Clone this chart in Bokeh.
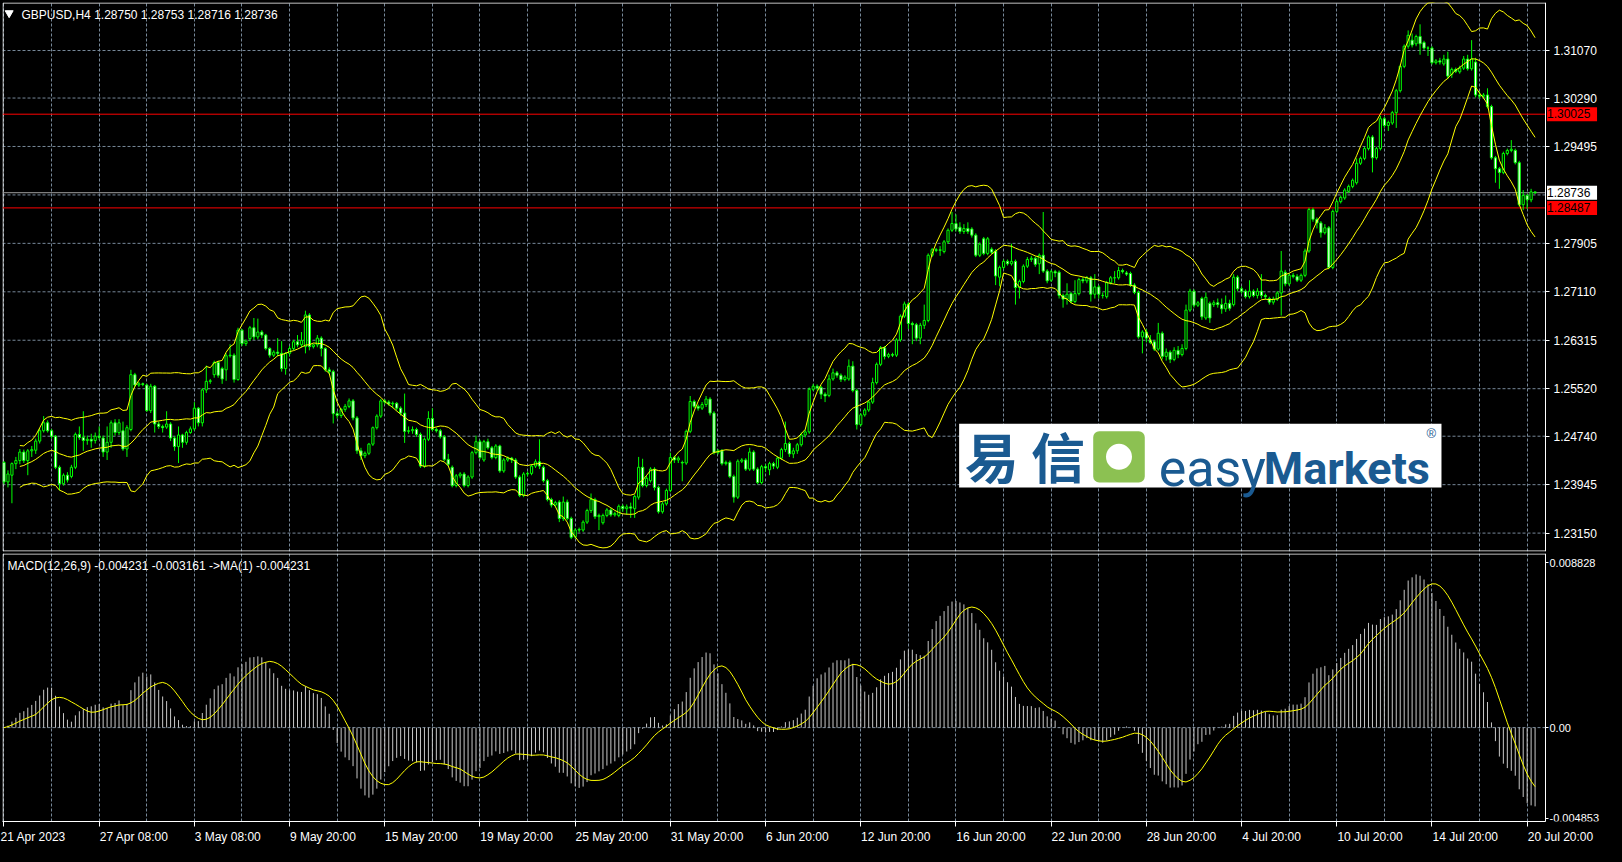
import pandas as pd
from bokeh.plotting import figure
from bokeh.layouts import column
from bokeh.models import (FixedTicker, Grid, Label, Range1d, ColumnDataSource,
                          PrintfTickFormatter, LinearAxis)
from bokeh.embed import file_html
from bokeh.resources import INLINE

# ---------------- data ----------------
symbol = "GBPUSD,H4"
last_ohlc = ["1.28750", "1.28753", "1.28716", "1.28736"]

opens = [
1.2431,1.2399,1.2410,1.2429,1.2434,1.2448,1.2434,1.2450,1.2451,1.2466,
1.2483,1.2496,1.2483,1.2474,1.2423,1.2396,1.2410,1.2408,1.2423,1.2477,
1.2472,1.2467,1.2469,1.2467,1.2474,1.2471,1.2448,1.2464,1.2496,1.2480,
1.2483,1.2453,1.2485,1.2575,1.2558,1.2560,1.2558,1.2516,1.2556,1.2494,
1.2490,1.2489,1.2494,1.2471,1.2457,1.2476,1.2464,1.2480,1.2486,1.2520,
1.2496,1.2550,1.2564,1.2575,1.2595,1.2585,1.2583,1.2606,1.2607,1.2567,
1.2648,1.2626,1.2634,1.2652,1.2637,1.2645,1.2640,1.2618,1.2607,1.2612,
1.2610,1.2585,1.2610,1.2618,1.2629,1.2624,1.2621,1.2673,1.2621,1.2624,
1.2635,1.2618,1.2583,1.2580,1.2511,1.2508,1.2518,1.2523,1.2532,1.2504,
1.2450,1.2442,1.2446,1.2461,1.2488,1.2507,1.2532,1.2530,1.2527,1.2528,
1.2520,1.2512,1.2482,1.2483,1.2485,1.2477,1.2425,1.2469,1.2503,1.2485,
1.2483,1.2473,1.2436,1.2423,1.2393,1.2409,1.2412,1.2393,1.2407,1.2447,
1.2465,1.2435,1.2465,1.2455,1.2439,1.2458,1.2417,1.2435,1.2438,1.2435,
1.2407,1.2377,1.2412,1.2413,1.2425,1.2432,1.2423,1.2401,1.2370,1.2361,
1.2366,1.2339,1.2366,1.2339,1.2309,1.2320,1.2320,1.2333,1.2352,1.2370,
1.2342,1.2332,1.2344,1.2353,1.2345,1.2344,1.2359,1.2355,1.2358,1.2355,
1.2374,1.2423,1.2393,1.2401,1.2420,1.2390,1.2350,1.2363,1.2385,1.2439,
1.2435,1.2431,1.2430,1.2482,1.2531,1.2523,1.2520,1.2526,1.2535,1.2512,
1.2447,1.2450,1.2429,1.2431,1.2408,1.2374,1.2433,1.2435,1.2420,1.2448,
1.2420,1.2398,1.2424,1.2419,1.2429,1.2423,1.2438,1.2452,1.2462,1.2445,
1.2450,1.2460,1.2476,1.2481,1.2551,1.2556,1.2554,1.2543,1.2541,1.2568,
1.2578,1.2574,1.2567,1.2568,1.2589,1.2549,1.2493,1.2509,1.2517,1.2530,
1.2562,1.2592,1.2619,1.2605,1.2608,1.2607,1.2632,1.2671,1.2691,1.2659,
1.2657,1.2635,1.2656,1.2664,1.2771,1.2780,1.2779,1.2777,1.2793,1.2812,
1.2823,1.2817,1.2810,1.2815,1.2814,1.2804,1.2771,1.2798,1.2774,1.2781,
1.2778,1.2735,1.2751,1.2761,1.2757,1.2761,1.2718,1.2728,1.2753,1.2764,
1.2766,1.2757,1.2771,1.2745,1.2730,1.2744,1.2743,1.2705,1.2699,1.2708,
1.2695,1.2708,1.2731,1.2729,1.2734,1.2707,1.2719,1.2705,1.2703,1.2726,
1.2734,1.2734,1.2746,1.2742,1.2741,1.2722,1.2710,1.2637,1.2645,1.2632,
1.2629,1.2617,1.2643,1.2605,1.2612,1.2600,1.2615,1.2608,1.2618,1.2681,
1.2712,1.2689,1.2700,1.2668,1.2692,1.2690,1.2693,1.2690,1.2683,1.2692,
1.2690,1.2735,1.2716,1.2712,1.2703,1.2712,1.2705,1.2712,1.2705,1.2700,
1.2694,1.2699,1.2709,1.2743,1.2724,1.2738,1.2736,1.2730,1.2738,1.2778,
1.2846,1.2830,1.2824,1.2808,1.2816,1.2751,1.2843,1.2859,1.2865,1.2876,
1.2884,1.2890,1.2922,1.2930,1.2946,1.2965,1.2931,1.2946,1.2995,1.2984,
1.2988,1.3005,1.3041,1.3081,1.3114,1.3124,1.3118,1.3130,1.3120,1.3111,
1.3111,1.3087,1.3090,1.3085,1.3093,1.3068,1.3076,1.3072,1.3078,1.3093,
1.3077,1.3088,1.3034,1.3032,1.3034,1.3015,1.2931,1.2913,1.2907,1.2938,
1.2943,1.2943,1.2923,1.2854,1.2869,1.2862,1.28750]

highs = [
1.2433,1.2418,1.2431,1.2440,1.2453,1.2452,1.2453,1.2458,1.2470,1.2487,
1.2507,1.2500,1.2486,1.2476,1.2426,1.2413,1.2415,1.2427,1.2480,1.2490,
1.2515,1.2475,1.2478,1.2480,1.2490,1.2475,1.2490,1.2500,1.2502,1.2502,
1.2498,1.2492,1.2583,1.2578,1.2563,1.2562,1.2560,1.2560,1.2558,1.2498,
1.2493,1.2515,1.2497,1.2474,1.2490,1.2478,1.2483,1.2490,1.2530,1.2522,
1.2553,1.2590,1.2568,1.2598,1.2598,1.2588,1.2610,1.2625,1.2610,1.2652,
1.2650,1.2633,1.2655,1.2668,1.2667,1.2648,1.2642,1.2620,1.2615,1.2635,
1.2630,1.2612,1.2622,1.2632,1.2640,1.2645,1.2680,1.2676,1.2626,1.2640,
1.2638,1.2620,1.2587,1.2583,1.2515,1.2520,1.2527,1.2536,1.2535,1.2507,
1.2455,1.2449,1.2463,1.2490,1.2510,1.2535,1.2535,1.2533,1.2531,1.2530,
1.2523,1.2544,1.2490,1.2490,1.2488,1.2480,1.2472,1.2515,1.2520,1.2488,
1.2486,1.2476,1.2445,1.2426,1.2412,1.2415,1.2415,1.2410,1.2450,1.2475,
1.2468,1.2468,1.2470,1.2458,1.2461,1.2460,1.2438,1.2441,1.2440,1.2438,
1.2410,1.2415,1.2416,1.2428,1.2436,1.2469,1.2426,1.2404,1.2373,1.2368,
1.2369,1.2375,1.2370,1.2342,1.2323,1.2324,1.2336,1.2355,1.2380,1.2373,
1.2347,1.2347,1.2356,1.2356,1.2350,1.2362,1.2362,1.2362,1.2365,1.2378,
1.2440,1.2437,1.2410,1.2423,1.2423,1.2393,1.2366,1.2388,1.2447,1.2442,
1.2441,1.2434,1.2485,1.2540,1.2534,1.2526,1.2530,1.2540,1.2538,1.2515,
1.2453,1.2453,1.2434,1.2434,1.2411,1.2436,1.2438,1.2438,1.2455,1.2451,
1.2423,1.2427,1.2428,1.2432,1.2432,1.2441,1.2455,1.2498,1.2465,1.2455,
1.2463,1.2480,1.2485,1.2554,1.2560,1.2559,1.2557,1.2546,1.2575,1.2585,
1.2581,1.2577,1.2574,1.2600,1.2597,1.2552,1.2512,1.2520,1.2533,1.2570,
1.2595,1.2622,1.2622,1.2611,1.2611,1.2635,1.2674,1.2695,1.2694,1.2662,
1.2660,1.2660,1.2690,1.2774,1.2783,1.2783,1.2786,1.2796,1.2815,1.2842,
1.2838,1.2825,1.2822,1.2825,1.2817,1.2807,1.2792,1.2801,1.2801,1.2784,
1.2781,1.2754,1.2764,1.2764,1.2790,1.2764,1.2731,1.2756,1.2768,1.2770,
1.2769,1.2774,1.2842,1.2748,1.2747,1.2747,1.2746,1.2708,1.2725,1.2711,
1.2730,1.2734,1.2735,1.2737,1.2737,1.2740,1.2722,1.2710,1.2729,1.2737,
1.2745,1.2752,1.2749,1.2745,1.2744,1.2725,1.2713,1.2648,1.2650,1.2640,
1.2632,1.2660,1.2646,1.2618,1.2615,1.2620,1.2622,1.2625,1.2690,1.2716,
1.2715,1.2696,1.2703,1.2710,1.2695,1.2697,1.2700,1.2700,1.2705,1.2698,
1.2740,1.2738,1.2720,1.2715,1.2730,1.2715,1.2717,1.2740,1.2708,1.2703,
1.2703,1.2712,1.2778,1.2747,1.2741,1.2742,1.2740,1.2741,1.2782,1.2849,
1.2849,1.2833,1.2827,1.2822,1.2819,1.2846,1.2862,1.2869,1.2881,1.2887,
1.2897,1.2930,1.2933,1.2949,1.2968,1.2968,1.2949,1.3000,1.2998,1.2992,
1.3008,1.3044,1.3084,1.3117,1.3140,1.3135,1.3133,1.3150,1.3123,1.3114,
1.3114,1.3093,1.3095,1.3100,1.3105,1.3079,1.3079,1.3082,1.3098,1.3100,
1.3124,1.3095,1.3040,1.3037,1.3045,1.3018,1.2934,1.2916,1.2941,1.2946,
1.2960,1.2946,1.2926,1.2878,1.2872,1.2880,1.28753]

lows = [
1.2395,1.2390,1.2364,1.2420,1.2428,1.2430,1.2410,1.2440,1.2445,1.2462,
1.2480,1.2480,1.2470,1.2420,1.2385,1.2393,1.2398,1.2405,1.2420,1.2468,
1.2450,1.2460,1.2455,1.2462,1.2468,1.2440,1.2435,1.2455,1.2475,1.2476,
1.2450,1.2440,1.2482,1.2555,1.2555,1.2556,1.2514,1.2512,1.2480,1.2486,
1.2480,1.2486,1.2466,1.2450,1.2430,1.2455,1.2460,1.2478,1.2483,1.2490,
1.2490,1.2545,1.2560,1.2570,1.2570,1.2560,1.2565,1.2603,1.2562,1.2565,
1.2622,1.2622,1.2630,1.2632,1.2633,1.2635,1.2615,1.2603,1.2604,1.2605,
1.2580,1.2575,1.2605,1.2615,1.2620,1.2620,1.2610,1.2615,1.2618,1.2620,
1.2605,1.2580,1.2576,1.2495,1.2503,1.2504,1.2514,1.2520,1.2500,1.2445,
1.2435,1.2438,1.2443,1.2458,1.2485,1.2504,1.2526,1.2524,1.2520,1.2516,
1.2508,1.2463,1.2478,1.2478,1.2473,1.2422,1.2422,1.2466,1.2482,1.2480,
1.2470,1.2433,1.2425,1.2390,1.2390,1.2405,1.2390,1.2390,1.2404,1.2444,
1.2436,1.2432,1.2452,1.2436,1.2436,1.2414,1.2414,1.2432,1.2430,1.2404,
1.2374,1.2374,1.2408,1.2410,1.2422,1.2420,1.2398,1.2367,1.2357,1.2358,
1.2333,1.2335,1.2336,1.2305,1.2306,1.2316,1.2317,1.2330,1.2348,1.2338,
1.2320,1.2329,1.2341,1.2342,1.2342,1.2341,1.2350,1.2345,1.2340,1.2340,
1.2370,1.2390,1.2390,1.2398,1.2385,1.2347,1.2347,1.2360,1.2382,1.2430,
1.2430,1.2400,1.2427,1.2479,1.2520,1.2516,1.2517,1.2522,1.2508,1.2444,
1.2444,1.2426,1.2426,1.2405,1.2365,1.2371,1.2430,1.2417,1.2417,1.2417,
1.2395,1.2395,1.2415,1.2410,1.2420,1.2420,1.2435,1.2448,1.2440,1.2438,
1.2445,1.2457,1.2472,1.2478,1.2548,1.2549,1.2535,1.2530,1.2538,1.2565,
1.2570,1.2563,1.2564,1.2565,1.2546,1.2485,1.2490,1.2506,1.2514,1.2527,
1.2559,1.2589,1.2600,1.2602,1.2604,1.2604,1.2629,1.2668,1.2650,1.2625,
1.2630,1.2625,1.2650,1.2661,1.2768,1.2776,1.2770,1.2774,1.2790,1.2809,
1.2810,1.2806,1.2806,1.2806,1.2800,1.2768,1.2768,1.2771,1.2771,1.2773,
1.2722,1.2720,1.2748,1.2754,1.2754,1.2690,1.2700,1.2725,1.2750,1.2760,
1.2752,1.2740,1.2742,1.2725,1.2727,1.2735,1.2700,1.2685,1.2690,1.2692,
1.2692,1.2705,1.2725,1.2725,1.2695,1.2700,1.2700,1.2700,1.2700,1.2723,
1.2725,1.2731,1.2741,1.2737,1.2719,1.2707,1.2634,1.2610,1.2628,1.2625,
1.2614,1.2614,1.2600,1.2598,1.2594,1.2597,1.2602,1.2605,1.2615,1.2678,
1.2685,1.2686,1.2665,1.2665,1.2660,1.2686,1.2685,1.2675,1.2678,1.2680,
1.2687,1.2712,1.2708,1.2700,1.2700,1.2702,1.2700,1.2700,1.2698,1.2690,
1.2690,1.2696,1.2672,1.2720,1.2721,1.2733,1.2727,1.2727,1.2735,1.2775,
1.2826,1.2815,1.2800,1.2805,1.2748,1.2748,1.2840,1.2856,1.2862,1.2873,
1.2881,1.2887,1.2919,1.2927,1.2943,1.2907,1.2928,1.2943,1.2980,1.2975,
1.2985,1.2980,1.3038,1.3078,1.3110,1.3112,1.3114,1.3100,1.3108,1.3098,
1.3084,1.3084,1.3084,1.3082,1.3060,1.3062,1.3070,1.3069,1.3075,1.3074,
1.3074,1.3030,1.3028,1.3029,1.3012,1.2928,1.2890,1.2880,1.2904,1.2935,
1.2940,1.2920,1.2851,1.2845,1.2847,1.2858,1.28716]

closes = [
1.2399,1.2412,1.2429,1.2434,1.2448,1.2434,1.2450,1.2452,1.2466,1.2483,
1.2496,1.2483,1.2474,1.2423,1.2396,1.2410,1.2402,1.2423,1.2477,1.2472,
1.2467,1.2469,1.2466,1.2474,1.2472,1.2448,1.2464,1.2496,1.2480,1.2496,
1.2453,1.2488,1.2575,1.2558,1.2560,1.2559,1.2516,1.2556,1.2494,1.2490,
1.2488,1.2494,1.2471,1.2457,1.2476,1.2464,1.2480,1.2486,1.2520,1.2496,
1.2550,1.2564,1.2565,1.2595,1.2574,1.2568,1.2606,1.2607,1.2567,1.2648,
1.2626,1.2630,1.2652,1.2637,1.2645,1.2640,1.2618,1.2607,1.2612,1.2610,
1.2585,1.2610,1.2618,1.2629,1.2624,1.2631,1.2673,1.2621,1.2624,1.2635,
1.2618,1.2583,1.2580,1.2511,1.2508,1.2518,1.2523,1.2532,1.2504,1.2450,
1.2442,1.2446,1.2461,1.2488,1.2507,1.2532,1.2530,1.2527,1.2528,1.2520,
1.2512,1.2482,1.2483,1.2485,1.2477,1.2425,1.2469,1.2503,1.2485,1.2483,
1.2473,1.2436,1.2428,1.2393,1.2409,1.2412,1.2393,1.2407,1.2447,1.2465,
1.2439,1.2465,1.2455,1.2439,1.2458,1.2417,1.2435,1.2438,1.2435,1.2407,
1.2377,1.2412,1.2413,1.2425,1.2432,1.2425,1.2401,1.2370,1.2361,1.2365,
1.2339,1.2366,1.2339,1.2308,1.2320,1.2321,1.2333,1.2352,1.2370,1.2342,
1.2344,1.2344,1.2353,1.2345,1.2347,1.2359,1.2355,1.2358,1.2356,1.2375,
1.2423,1.2393,1.2405,1.2420,1.2390,1.2350,1.2363,1.2385,1.2439,1.2435,
1.2438,1.2430,1.2482,1.2531,1.2523,1.2520,1.2526,1.2535,1.2512,1.2447,
1.2450,1.2429,1.2431,1.2408,1.2374,1.2433,1.2435,1.2420,1.2448,1.2420,
1.2398,1.2424,1.2422,1.2429,1.2425,1.2438,1.2452,1.2462,1.2445,1.2450,
1.2460,1.2476,1.2481,1.2551,1.2556,1.2553,1.2543,1.2540,1.2568,1.2578,
1.2574,1.2567,1.2571,1.2589,1.2549,1.2493,1.2509,1.2517,1.2530,1.2562,
1.2592,1.2619,1.2605,1.2608,1.2607,1.2632,1.2671,1.2691,1.2659,1.2657,
1.2635,1.2656,1.2664,1.2771,1.2780,1.2779,1.2780,1.2793,1.2812,1.2823,
1.2814,1.2810,1.2815,1.2810,1.2804,1.2771,1.2789,1.2774,1.2798,1.2776,
1.2737,1.2751,1.2761,1.2757,1.2761,1.2718,1.2728,1.2753,1.2764,1.2766,
1.2756,1.2771,1.2745,1.2729,1.2744,1.2742,1.2705,1.2699,1.2707,1.2695,
1.2708,1.2731,1.2729,1.2734,1.2707,1.2719,1.2707,1.2705,1.2726,1.2734,
1.2734,1.2746,1.2744,1.2740,1.2722,1.2710,1.2637,1.2645,1.2635,1.2628,
1.2617,1.2643,1.2605,1.2612,1.2600,1.2615,1.2608,1.2618,1.2681,1.2712,
1.2689,1.2693,1.2670,1.2702,1.2668,1.2693,1.2690,1.2683,1.2692,1.2684,
1.2735,1.2716,1.2712,1.2703,1.2712,1.2705,1.2712,1.2705,1.2703,1.2694,
1.2699,1.2709,1.2745,1.2724,1.2738,1.2736,1.2730,1.2738,1.2778,1.2846,
1.2830,1.2824,1.2808,1.2816,1.2751,1.2843,1.2859,1.2866,1.2878,1.2884,
1.2894,1.2922,1.2930,1.2946,1.2965,1.2931,1.2946,1.2995,1.2984,1.2989,
1.3005,1.3041,1.3081,1.3114,1.3132,1.3116,1.3130,1.3118,1.3111,1.3111,
1.3087,1.3090,1.3088,1.3093,1.3065,1.3076,1.3073,1.3078,1.3093,1.3077,
1.3093,1.3034,1.3032,1.3034,1.3015,1.2931,1.2913,1.2907,1.2938,1.2943,
1.2945,1.2923,1.2854,1.2869,1.2862,1.2875,1.28736]

price_ticks = [1.23150, 1.23945, 1.24740, 1.25520, 1.26315, 1.27110,
               1.27905, 1.28700, 1.29495, 1.30290, 1.31070]
time_tick_bars = [0, 24, 48, 72, 96, 120, 144, 168, 192, 216, 240, 264, 288, 312, 336, 360, 384]
time_labels = ["21 Apr 2023", "27 Apr 08:00", "3 May 08:00", "9 May 20:00", "15 May 20:00",
               "19 May 20:00", "25 May 20:00", "31 May 20:00", "6 Jun 20:00", "12 Jun 20:00",
               "16 Jun 20:00", "22 Jun 20:00", "28 Jun 20:00", "4 Jul 20:00", "10 Jul 20:00",
               "14 Jul 20:00", "20 Jul 20:00"]
level_lines = [1.30025, 1.28487]
bid_price = 1.28736
macd_ticks = [-0.004853, 0.0, 0.008828]
macd_tick_labels = ["-0.004853", "0.00", "0.008828"]
macd_header = "MACD(12,26,9) -0.004231 -0.003161  ->MA(1) -0.004231"

# ---------------- derived indicators ----------------
n = min(len(opens), len(highs), len(lows), len(closes))
idx = list(range(n))
o = opens[:n]; h = highs[:n]; l = lows[:n]; c = closes[:n]
cs = pd.Series(c)
mid = cs.rolling(20, min_periods=5).mean()
sd = cs.rolling(20, min_periods=5).std(ddof=0)
upper = mid + 2 * sd
lower = mid - 2 * sd
macd = cs.ewm(span=12, adjust=False).mean() - cs.ewm(span=26, adjust=False).mean()
signal = macd.rolling(9, min_periods=1).mean()

# ---------------- layout constants ----------------
FONT = "Liberation Sans"
GRID = "#778899"
W = 1606
BL = 2
AXIS_PX = 1545                       # page x of the price axis line
X0, X1 = -0.375, 388.625             # chart area in bar units
PPB = (AXIS_PX - BL) / (X1 - X0)     # pixels per bar
XE = X0 + (W - BL) / PPB             # frame extends under the axis labels
XR = Range1d(X0, XE)
dx = 0.5 / PPB

Y0, Y1 = 1.22848, 1.31858
H1F = 549
dy1 = 0.5 * (Y1 - Y0) / H1F
M0, M1 = -0.005034, 0.009333
H2F = 271
dy2 = 0.5 * (M1 - M0) / H2F


def style_axis(ax, size, standoff, tick_out):
    ax.axis_line_color = "white"
    ax.major_tick_line_color = "white"
    ax.major_tick_out = tick_out
    ax.major_tick_in = 0
    ax.minor_tick_line_color = None
    ax.major_label_text_color = "white"
    ax.major_label_text_font = FONT
    ax.major_label_text_font_size = size
    ax.major_label_standoff = standoff


# ---------------- main price pane ----------------
p1 = figure(width=W, height=BL + H1F + 1, x_range=XR, y_range=Range1d(Y0, Y1),
            output_backend="svg", toolbar_location=None,
            x_axis_location=None, y_axis_location=None,
            background_fill_color="black", border_fill_color="black",
            outline_line_color=None,
            min_border_left=BL, min_border_right=0, min_border_top=BL, min_border_bottom=1)
for g in list(p1.renderers) + list(p1.center):
    if isinstance(g, Grid):
        g.visible = False
p1.xgrid.visible = False
p1.ygrid.visible = False
p1.add_layout(Grid(dimension=0, ticker=FixedTicker(ticks=list(range(0, n, 12))),
                   grid_line_color=GRID, grid_line_dash="3 2", grid_line_width=1))
p1.segment(x0=[X0] * len(price_ticks), x1=[X1] * len(price_ticks), y0=price_ticks, y1=price_ticks,
           line_color=GRID, line_dash="3 2", line_width=1)
# frame border of the chart area
p1.quad(left=[X0 + dx], right=[X1], bottom=[Y0 + dy1], top=[Y1 - dy1],
        fill_color=None, line_color="white", line_width=1)

ya = LinearAxis(fixed_location=X1,
                ticker=FixedTicker(ticks=[t for t in price_ticks if abs(t - bid_price) > 0.001]),
                formatter=PrintfTickFormatter(format="%.5f"))
style_axis(ya, "12px", 4, 4)
p1.add_layout(ya, "right")

p1.segment(x0=[X0] * 2, x1=[X1] * 2, y0=level_lines, y1=level_lines, line_color="#FF0000", line_width=1)
p1.segment(x0=[X0], x1=[X1], y0=[bid_price], y1=[bid_price], line_color="#A0A0A0", line_width=1)

src = ColumnDataSource(dict(
    x=idx, h=h, l=l,
    top=[max(a, b) for a, b in zip(o, c)],
    bot=[min(a, b) for a, b in zip(o, c)],
    fill=["black" if b >= a else "white" for a, b in zip(o, c)],
))
p1.segment(x0="x", y0="h", x1="x", y1="l", source=src, line_color="#00FF00", line_width=1)
p1.vbar(x="x", width=0.55, top="top", bottom="bot", fill_color="fill",
        line_color="#00FF00", line_width=1, source=src)

for band in (upper, mid, lower):
    p1.line(idx, list(band), line_color="#FFFF00", line_width=1)

# price boxes next to the axis
for lv, bg in ((level_lines[0], "#FF0000"), (bid_price, "#FFFFFF"), (level_lines[1], "#FF0000")):
    p1.add_layout(Label(x=X1 + 1.5 / PPB, y=lv, text=" %.5f " % lv, text_font=FONT,
                        text_font_size="12px", text_color="black", text_baseline="middle",
                        background_fill_color=bg, background_fill_alpha=1.0))

# logo
p1.quad(left=[240.8], right=[362.4], bottom=[1.23899], top=[1.24946],
        fill_color="white", line_color=None)
try:
    p1.quad(left=[274.6], right=[287.6], bottom=[1.23980], top=[1.24822],
            fill_color="#8CC152", line_color=None, border_radius=6)
except Exception:
    p1.quad(left=[274.6], right=[287.6], bottom=[1.23980], top=[1.24822],
            fill_color="#8CC152", line_color=None)
p1.scatter(x=[281.1], y=[1.24401], size=26, marker="circle", fill_color="white", line_color=None)
LOGO = "#1A5A91"
p1.add_layout(Label(x=242.2, y=1.24417, text="易", text_font="Noto Sans CJK SC",
                    text_font_style="bold", text_font_size="54px", text_color=LOGO,
                    text_baseline="middle"))
p1.add_layout(Label(x=258.9, y=1.24417, text="信", text_font="Noto Sans CJK SC",
                    text_font_style="bold", text_font_size="54px", text_color=LOGO,
                    text_baseline="middle"))
p1.add_layout(Label(x=291.1, y=1.2421, text="easy", text_font="Roboto",
                    text_font_size="52px", text_color=LOGO, text_baseline="alphabetic"))
p1.add_layout(Label(x=317.6, y=1.2421, text="Markets", text_font="Roboto",
                    text_font_style="bold", text_font_size="45px", text_color=LOGO,
                    text_baseline="alphabetic"))
p1.add_layout(Label(x=358.6, y=1.2479, text="®", text_font=FONT,
                    text_font_size="13px", text_color=LOGO, text_baseline="middle"))

# header
p1.scatter(x=[1.3], y=[1.31685], marker="inverted_triangle", size=8,
           fill_color="white", line_color="white")
p1.add_layout(Label(x=4.4, y=1.31660, text=symbol + "  " + " ".join(last_ohlc),
                    text_font=FONT, text_font_size="12px", text_color="white",
                    text_baseline="middle"))

# ---------------- MACD pane ----------------
p2 = figure(width=W, height=1 + H2F + 22, x_range=XR, y_range=Range1d(M0, M1),
            output_backend="svg", toolbar_location=None, y_axis_location=None,
            background_fill_color="black", border_fill_color="black",
            outline_line_color=None,
            min_border_left=BL, min_border_right=0, min_border_top=1, min_border_bottom=22)
for g in list(p2.renderers) + list(p2.center):
    if isinstance(g, Grid):
        g.visible = False
p2.xgrid.visible = False
p2.ygrid.visible = False
p2.add_layout(Grid(dimension=0, ticker=FixedTicker(ticks=list(range(0, n, 12))),
                   grid_line_color=GRID, grid_line_dash="3 2", grid_line_width=1))
p2.segment(x0=[X0], x1=[X1], y0=[0.0], y1=[0.0], line_color=GRID, line_dash="3 2", line_width=1)
p2.quad(left=[X0 + dx], right=[X1], bottom=[M0 - 1.0], top=[M1 - dy2],
        fill_color=None, line_color="white", line_width=1)

p2.segment(x0=idx, y0=[0.0] * n, x1=idx, y1=list(macd), line_color="#C8C8C8", line_width=1)
p2.line(idx, list(signal), line_color="#FFFF00", line_width=1)

y2 = LinearAxis(fixed_location=X1, ticker=FixedTicker(ticks=macd_ticks),
                major_label_overrides={t: s for t, s in zip(macd_ticks, macd_tick_labels)})
style_axis(y2, "11px", 1, 3)
p2.add_layout(y2, "right")

# time axis: each label starts at its tick (padded with no-break spaces to the left)
CW = {ch: 0.556 for ch in "0123456789"}
CW.update({" ": 0.278, ":": 0.278, "A": 0.667, "p": 0.556, "r": 0.333, "M": 0.833,
           "a": 0.556, "y": 0.5, "J": 0.5, "u": 0.556, "n": 0.556, "l": 0.222})


def text_width(s, px):
    return sum(CW.get(ch, 0.556) for ch in s) * px


def left_anchored(s, px=12):
    k = int(round((text_width(s, px) + 2) / (0.278 * px)))
    return "\u00a0" * k + s


x2 = p2.xaxis[0]
x2.ticker = FixedTicker(ticks=time_tick_bars)
x2.major_label_overrides = {b: (s if b == 0 else left_anchored(s))
                            for b, s in zip(time_tick_bars, time_labels)}
x2.bounds = (X0, X1)
style_axis(x2, "12px", 3, 5)

p2.add_layout(Label(x=0.9, y=0.008670, text=macd_header, text_font=FONT,
                    text_font_size="12px", text_color="white", text_baseline="middle"))

layout = column(p1, p2)
try:
    from bokeh.models import GlobalInlineStyleSheet
    layout.stylesheets = [GlobalInlineStyleSheet(css="html, body { background-color: #000000; }")]
except Exception:
    pass

open("out.html", "w").write(file_html(layout, INLINE))
